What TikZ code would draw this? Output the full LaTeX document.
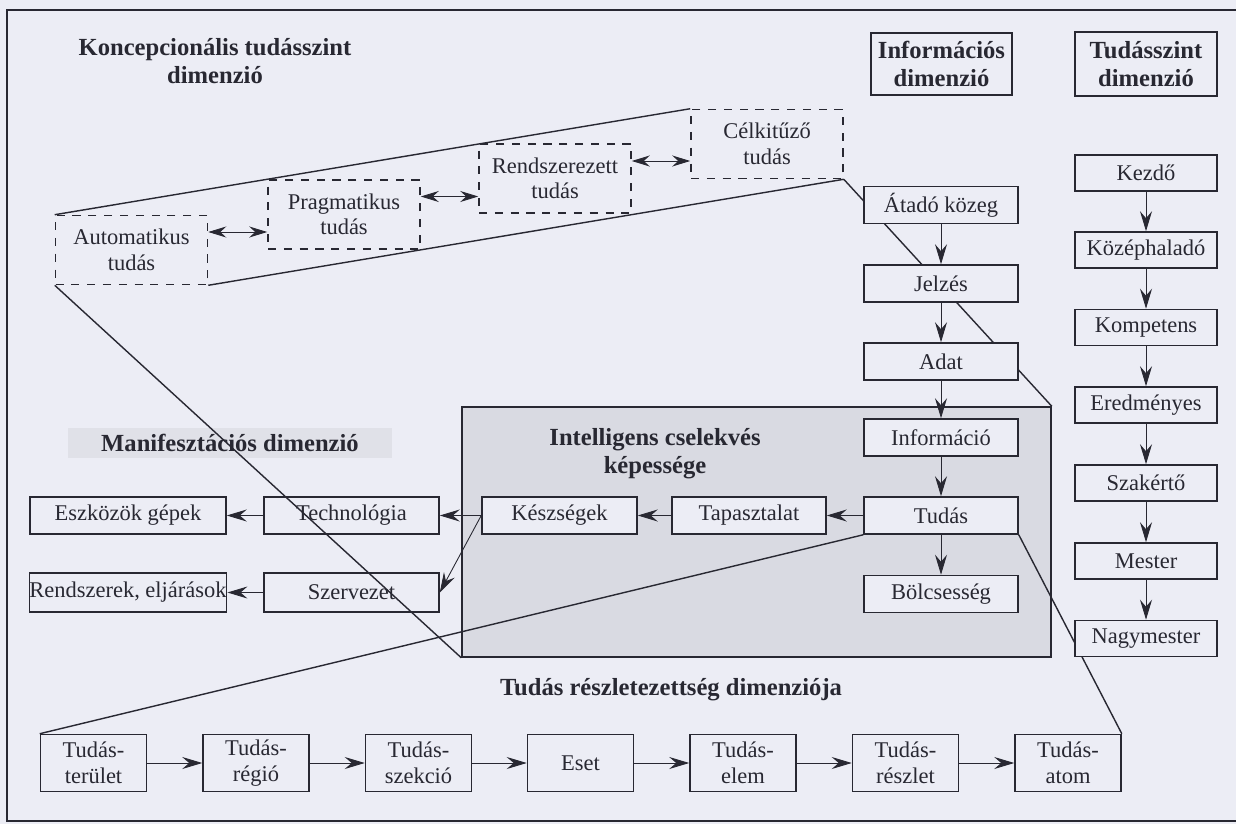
\documentclass[tikz,border=0pt]{standalone}
\usepackage{fontspec}
\setmainfont{Liberation Serif}
\usetikzlibrary{shapes, arrows.meta, positioning, calc}

\definecolor{papir}{RGB}{236,237,245}
\definecolor{arnyek}{RGB}{217,218,226}
\definecolor{sav}{RGB}{224,225,232}
\definecolor{tinta}{RGB}{40,40,50}

\tikzset{
  doboz/.style={draw=tinta, fill=papir, line width=0.9pt, inner sep=0pt, align=center,
    text=tinta, font=\fontsize{12.8}{14.5}\selectfont},
  szagg/.style={doboz, dashed, dash pattern=on 4.6pt off 4.4pt, minimum width=3.04cm, minimum height=1.38cm},
  info/.style={doboz, minimum width=3.08cm, minimum height=0.74cm},
  szint/.style={doboz, minimum width=2.84cm, minimum height=0.72cm},
  reszlet/.style={doboz, minimum width=2.12cm, minimum height=1.14cm},
  cim/.style={font=\bfseries\fontsize{14}{16}\selectfont, align=center, text=tinta},
  nyil/.style={draw=tinta, line width=0.5pt, -{Stealth[length=4mm, width=2.4mm, inset=1.4mm]}},
  ketnyil/.style={draw=tinta, line width=0.5pt,
    {Stealth[length=3.6mm, width=2.2mm, inset=1.2mm]}-{Stealth[length=3.6mm, width=2.2mm, inset=1.2mm]}},
  vonal/.style={draw=tinta, line width=0.8pt},
}

\begin{document}
\begin{tikzpicture}[x=0.02cm, y=-0.02cm]
  % háttér és keret
  \fill[papir] (0,0) rectangle (1236,824);
  \useasboundingbox (0,0) rectangle (1236,824);
  \draw[tinta, line width=1.2pt] (1236,10) -- (7,10) -- (7,821) -- (1236,821);

  % Intelligens cselekvés képessége (szürke mező)
  \node[draw=tinta, fill=arnyek, line width=0.9pt, inner sep=0pt, minimum width=11.78cm, minimum height=5cm] (intel) at (756.5,532) {};
  \node[cim] (intelcim) at (655,453.5) {Intelligens cselekvés\\képessége};
  \node[cim, fill=sav, minimum width=6.48cm, minimum height=0.52cm] (manicim) at (230,443) {Manifesztációs dimenzió};

  % koncepcionális tudásszint (szaggatott dobozok)
  \node[cim] (koncim) at (215,61) {Koncepcionális tudásszint\\dimenzió};
  \node[szagg] (auto) at (131.5,250) {Automatikus\\tudás};
  \node[szagg] (prag) at (344,214.5) {Pragmatikus\\tudás};
  \node[szagg] (rend) at (555,178.5) {Rendszerezett\\tudás};
  \node[szagg] (cel) at (767,144) {Célkitűző\\tudás};

  % a dobozok mögötti vonal
  \draw[vonal] (cel.south east) -- (intel.north east);

  % információs dimenzió
  \node[doboz, cim, minimum width=2.82cm, minimum height=1.24cm] (infocim) at (941.5,64) {Információs\\dimenzió};
  \node[info] (atado) at (941,205) {Átadó közeg};
  \node[info] (jelzes) at (941,283.5) {Jelzés};
  \node[info] (adat) at (941,361.5) {Adat};
  \node[info] (informacio) at (941,437.5) {Információ};
  \node[info] (tudas) at (941,515.5) {Tudás};
  \node[info] (bolcs) at (941,594) {Bölcsesség};

  % manifesztációs dimenzió
  \node[doboz, minimum width=3.08cm, minimum height=0.74cm] (tapasztalat) at (749,515.5) {Tapasztalat};
  \node[doboz, minimum width=3.1cm, minimum height=0.74cm] (keszsegek) at (559.5,515.5) {Készségek};
  \node[doboz, minimum width=3.5cm, minimum height=0.74cm] (technologia) at (351.5,515.5) {Technológia};
  \node[doboz, minimum width=3.92cm, minimum height=0.74cm] (eszkozok) at (128,515.5) {Eszközök gépek};
  \node[doboz, minimum width=3.5cm, minimum height=0.78cm] (szervezet) at (351.5,592.5) {Szervezet};
  \node[doboz, minimum width=3.92cm, minimum height=0.78cm] (rendszerek) at (128,592.5) {Rendszerek, eljárások};

  % tudás részletezettség dimenziója
  \node[cim] (resztcim) at (671,690) {Tudás részletezettség dimenziója};
  \node[reszlet] (terulet) at (93.5,763) {Tudás-\\terület};
  \node[reszlet] (regio) at (256,763) {Tudás-\\régió};
  \node[reszlet] (szekcio) at (418.5,763) {Tudás-\\szekció};
  \node[reszlet] (eset) at (580.5,763) {Eset};
  \node[reszlet] (elem) at (743,763) {Tudás-\\elem};
  \node[reszlet] (reszl) at (905.5,763) {Tudás-\\részlet};
  \node[reszlet] (atom) at (1068,763) {Tudás-\\atom};

  % a Nagymester mögötti vonal
  \draw[vonal] (tudas.south east) -- (atom.north east);

  % tudásszint dimenzió
  \node[doboz, cim, minimum width=2.84cm, minimum height=1.28cm] (szintcim) at (1146,64) {Tudásszint\\dimenzió};
  \node[szint] (kezdo) at (1146,173) {Kezdő};
  \node[szint] (kozep) at (1146,250) {Középhaladó};
  \node[szint] (kompetens) at (1146,327.5) {Kompetens};
  \node[szint] (eredmenyes) at (1146,405) {Eredményes};
  \node[szint] (szakerto) at (1146,483) {Szakértő};
  \node[szint] (mester) at (1146,561) {Mester};
  \node[szint] (nagymester) at (1146,638.5) {Nagymester};

  % összekötő vonalak
  \draw[vonal] (auto.north west) -- (cel.north west);
  \draw[vonal] (auto.south east) -- (cel.south east);
  \draw[vonal] (auto.south west) -- (intel.south west);
  \draw[vonal] (tudas.south west) -- (terulet.north west);

  % kettős nyilak
  \draw[ketnyil] (auto.east |- 0,232) -- (prag.west |- 0,232);
  \draw[ketnyil] (prag.east |- 0,196.5) -- (rend.west |- 0,196.5);
  \draw[ketnyil] (rend.east |- 0,161) -- (cel.west |- 0,161);

  % nyilak
  \draw[nyil] (atado) -- (jelzes);
  \draw[nyil] (jelzes) -- (adat);
  \draw[nyil] (adat) -- (informacio);
  \draw[nyil] (informacio) -- (tudas);
  \draw[nyil] (tudas) -- (bolcs);
  \draw[nyil] (kezdo) -- (kozep);
  \draw[nyil] (kozep) -- (kompetens);
  \draw[nyil] (kompetens) -- (eredmenyes);
  \draw[nyil] (eredmenyes) -- (szakerto);
  \draw[nyil] (szakerto) -- (mester);
  \draw[nyil] (mester) -- (nagymester);
  \draw[nyil] (tudas) -- (tapasztalat);
  \draw[nyil] (tapasztalat) -- (keszsegek);
  \draw[nyil] (keszsegek) -- (technologia);
  \draw[nyil] (technologia) -- (eszkozok);
  \draw[nyil] (keszsegek.west) -- (szervezet.east);
  \draw[nyil] (szervezet) -- (rendszerek);
  \draw[nyil] (terulet) -- (regio);
  \draw[nyil] (regio) -- (szekcio);
  \draw[nyil] (szekcio) -- (eset);
  \draw[nyil] (eset) -- (elem);
  \draw[nyil] (elem) -- (reszl);
  \draw[nyil] (reszl) -- (atom);
\end{tikzpicture}
\end{document}
